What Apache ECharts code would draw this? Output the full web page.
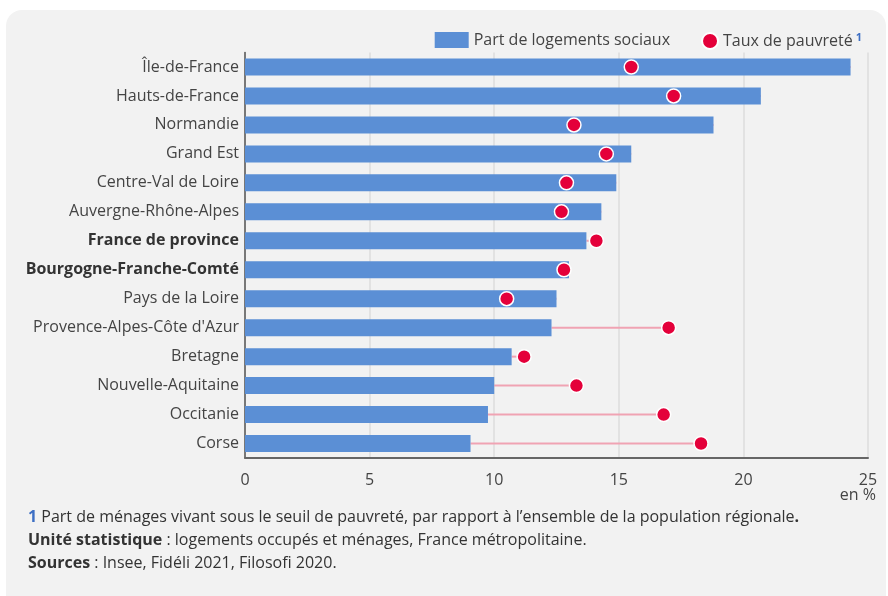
<!DOCTYPE html>
<html>
<head>
<meta charset="utf-8">
<script src="https://cdn.jsdelivr.net/npm/echarts@6/dist/echarts.min.js"></script>
<style>
  html, body { margin: 0; padding: 0; background: #fff; }
  #chartmain { width: 888px; height: 596px; }
</style>
</head>
<body>
<div id="chartmain"></div>
<script>
// données
var regions = ['Île-de-France', 'Hauts-de-France', 'Normandie', 'Grand Est', 'Centre-Val de Loire',
  'Auvergne-Rhône-Alpes', 'France de province', 'Bourgogne-Franche-Comté', 'Pays de la Loire',
  "Provence-Alpes-Côte d'Azur", 'Bretagne', 'Nouvelle-Aquitaine', 'Occitanie', 'Corse'];
var logementsSociaux = [24.3, 20.7, 18.8, 15.5, 14.9, 14.3, 13.7, 13.0, 12.5, 12.3, 10.7, 10.0, 9.75, 9.05];
var tauxPauvrete = [15.5, 17.2, 13.2, 14.5, 12.9, 12.7, 14.1, 12.8, 10.5, 17.0, 11.2, 13.3, 16.8, 18.3];
var xTicks = [0, 5, 10, 15, 20, 25];
var boldRegions = ['France de province', 'Bourgogne-Franche-Comté'];

var font = '"Open Sans", "Noto Sans", sans-serif';

// segments barre -> point
var liens = [];
for (var i = 0; i < regions.length; i++) {
  liens.push([logementsSociaux[i], tauxPauvrete[i], i]);
}

var myChart = echarts.init(document.getElementById('chartmain'));

var legendText = {
  fontSize: 16, color: '#444', fontFamily: font,
  rich: { s: { fontSize: 11, fontWeight: 'bold', color: '#3d6fc4', padding: [0, 0, 7, 3], fontFamily: font } }
};

var option = {
  backgroundColor: '#ffffff',
  animation: false,
  textStyle: { fontFamily: font },
  graphic: [
    { type: 'rect', z: -10, shape: { x: 6, y: 10, width: 880, height: 600, r: 16 }, style: { fill: '#f2f2f2' } },
    { type: 'text', right: 12, top: 487, style: { text: 'en %', font: '16px ' + font, fill: '#444' } },
    {
      type: 'text', left: 28, top: 509,
      style: {
        text: '{n|1} Part de ménages vivant sous le seuil de pauvreté, par rapport à l\u2019ensemble de la population régionale{b|.}',
        font: '16px ' + font, fill: '#333',
        rich: { n: { fontWeight: 'bold', fill: '#3d6fc4', fontSize: 16, fontFamily: font }, b: { fontWeight: 'bold', fontSize: 16, fontFamily: font, fill: '#333' } }
      }
    },
    {
      type: 'text', left: 28, top: 532,
      style: {
        text: '{b|Unité statistique} : logements occupés et ménages, France métropolitaine.',
        font: '16px ' + font, fill: '#333',
        rich: { b: { fontWeight: 'bold', fontSize: 16, fontFamily: font, fill: '#333' } }
      }
    },
    {
      type: 'text', left: 28, top: 555,
      style: {
        text: '{b|Sources} : Insee, Fidéli 2021, Filosofi 2020.',
        font: '16px ' + font, fill: '#333',
        rich: { b: { fontWeight: 'bold', fontSize: 16, fontFamily: font, fill: '#333' } }
      }
    }
  ],
  legend: [
    {
      right: 213, top: 27,
      itemWidth: 34, itemHeight: 16,
      data: [{ name: 'Part de logements sociaux', icon: 'rect' }],
      textStyle: legendText
    },
    {
      right: 21, top: 27,
      itemWidth: 16, itemHeight: 16,
      data: [{ name: 'Taux de pauvreté', icon: 'circle' }],
      formatter: function (name) { return name + '{s|1}'; },
      textStyle: legendText
    }
  ],
  grid: { left: 245, right: 20, top: 52.5, bottom: 138 },
  xAxis: {
    type: 'value', min: xTicks[0], max: xTicks[xTicks.length - 1], interval: 5,
    axisLine: { show: true, lineStyle: { color: '#666', width: 2 } },
    axisTick: { show: false },
    axisLabel: { fontSize: 16, color: '#444', margin: 14, fontFamily: font },
    splitLine: { lineStyle: { color: '#dcdcdc', width: 1.5 } }
  },
  yAxis: {
    type: 'category', inverse: true, data: regions,
    axisLine: { lineStyle: { color: '#555', width: 1.5 } },
    axisTick: { show: false },
    axisLabel: {
      fontSize: 16, color: '#444', margin: 6, fontFamily: font,
      formatter: function (v) {
        return boldRegions.indexOf(v) >= 0 ? '{b|' + v + '}' : v;
      },
      rich: { b: { fontWeight: 'bold', fontSize: 16, color: '#333', fontFamily: font } }
    }
  },
  series: [
    {
      name: 'liens', type: 'custom', data: liens, z: 1,
      encode: { x: [0, 1], y: 2 },
      renderItem: function (params, api) {
        var a = api.coord([api.value(0), api.value(2)]);
        var b = api.coord([api.value(1), api.value(2)]);
        return {
          type: 'line',
          shape: { x1: a[0], y1: a[1], x2: b[0], y2: b[1] },
          style: { stroke: '#f0a3b3', lineWidth: 2 }
        };
      }
    },
    {
      name: 'Part de logements sociaux', type: 'bar', data: logementsSociaux,
      barWidth: 17, itemStyle: { color: '#5b8fd5' }, z: 2
    },
    {
      name: 'Taux de pauvreté', type: 'scatter', data: tauxPauvrete.map(function (v, i) { return [v, i]; }),
      symbolSize: 14, z: 4,
      itemStyle: { color: '#e4003a', borderColor: '#ffffff', borderWidth: 1.5, opacity: 1 }
    }
  ]
};

myChart.setOption(option);
window.addEventListener('resize', function () {
  myChart.resize();
});
</script>
</body>
</html>
